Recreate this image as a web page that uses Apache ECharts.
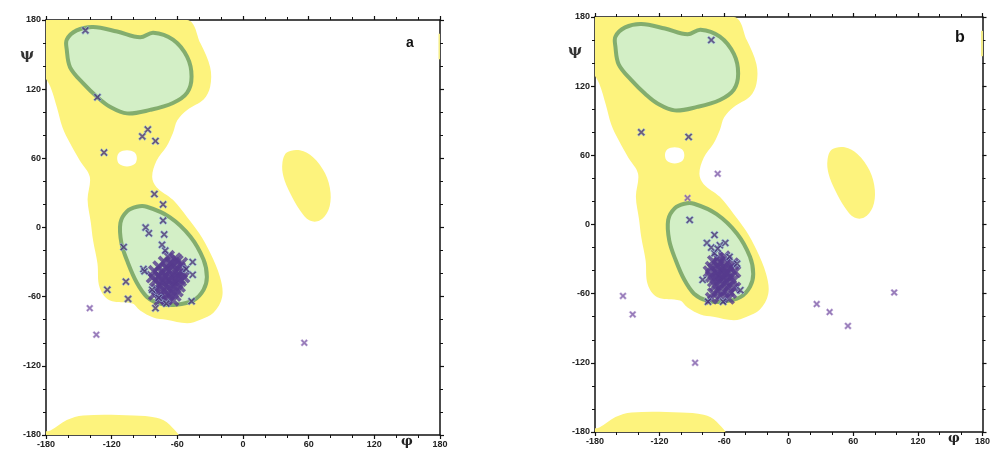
<!DOCTYPE html>
<html>
<head>
<meta charset="utf-8">
<script src="https://cdn.jsdelivr.net/npm/echarts@6/dist/echarts.min.js"></script>
<style>
  body { margin: 0; background: #fff; }
  #chart { width: 993px; height: 452px; }
</style>
</head>
<body>
<div id="chart"></div>
<script>
// tick labels for both axes (phi / psi in degrees)
let tickValues = [-180, -120, -60, 0, 60, 120, 180];

// allowed (yellow) region outlines, [phi, psi]
let allowedMain = [[-185,180],[-51,180],[-39,160],[-30,139],[-30,122],[-36,111],[-51,102],[-60,93],[-64,82],
  [-70,70],[-79,58],[-83,44],[-79,35],[-64,24],[-51,9],[-40,-5],[-30,-22],[-21,-43],[-19,-60],[-27,-74],
  [-39,-80],[-51,-83],[-70,-80],[-82,-78],[-94,-72],[-101,-66],[-122,-63],[-131,-52],[-133,-31],[-137,-11],
  [-139,4],[-142,24],[-140,44],[-149,58],[-158,73],[-165,87],[-170,104],[-176,122],[-185,139]];
let allowedBottom = [[-185,-185],[-185,-178],[-176,-176],[-161,-167],[-146,-163],[-100,-163],[-79,-165],[-67,-171],[-58,-185]];
let allowedLeftHanded = [[52,67],[64,61],[75,47],[80,30],[78,15],[70,6],[61,6],[52,15],[43,30],[37,44],[36,56],[40,65]];
let allowedEdge = [[178.6,168],[182,168],[182,146],[178.6,146]];
let holeRegion = [[-115,60],[-113,65],[-106,67],[-99,65],[-97,60],[-99,55],[-106,53],[-113,55]];

// core (green) region outlines
let coreBeta = [[-161,163],[-152,171],[-137,174],[-115,170],[-94,165],[-82,169],[-64,163],[-51,148],[-47,131],
  [-51,117],[-64,108],[-85,102],[-106,99],[-122,105],[-133,113],[-146,125],[-158,139],[-161,154]];
let coreAlpha = [[-88,18],[-67,9],[-48,-8],[-36,-28],[-33,-43],[-36,-54],[-45,-63],[-61,-67],[-76,-66],
  [-88,-60],[-97,-48],[-105,-31],[-111,-14],[-112,4],[-106,14],[-97,18]];

// residues, panel a (single ones, then the dense helix cluster)
let residuesA = [[-144,171],[-133,113],[-87,85],[-92,79],[-80,75],[-127,65],[-81,29],[-73,20],[-73,6],[-89,0],
  [-86,-5],[-72,-6],[-109,-17],[-71,-20],[-74,-15],[-46,-30],[-91,-36],[-46,-41],[-107,-47],[-124,-54],
  [-105,-62],[-80,-70],[-47,-64],[-83,-54],[-77,-61],[-70,-66],[-90,-38],[-52,-36]];
let clusterA = [[-68,-25],[-62,-27],[-72,-30],[-66,-31],[-60,-29],[-56,-31],[-77,-34],[-70,-35],[-64,-33],[-58,-35],
  [-81,-38],[-74,-39],[-68,-37],[-62,-38],[-56,-39],[-83,-43],[-77,-42],[-71,-42],[-65,-43],[-59,-41],
  [-54,-43],[-80,-46],[-74,-47],[-68,-46],[-62,-47],[-57,-46],[-76,-50],[-70,-51],[-64,-50],[-58,-51],
  [-78,-54],[-72,-55],[-66,-54],[-60,-55],[-81,-58],[-75,-59],[-68,-58],[-62,-59],[-76,-63],[-70,-62],
  [-64,-63],[-66,-45],[-60,-44],[-73,-44]];
let outliersA = [[-140,-70],[-134,-93],[56,-100]];

// residues, panel b
let residuesB = [[-72,160],[-137,80],[-93,76],[-92,4],[-69,-9],[-59,-16],[-64,-18],[-55,-28],[-69,-25],
  [-48,-34],[-80,-48],[-45,-57],[-75,-67],[-61,-67],[-76,-16],[-72,-20],[-66,-21]];
let clusterB = [[-66,-29],[-60,-28],[-70,-32],[-64,-33],[-58,-32],[-52,-34],[-72,-37],[-66,-36],[-60,-37],[-54,-38],
  [-74,-41],[-68,-41],[-62,-40],[-56,-42],[-50,-41],[-72,-45],[-66,-44],[-60,-45],[-54,-46],[-70,-49],
  [-64,-48],[-58,-50],[-52,-49],[-68,-53],[-62,-52],[-56,-54],[-66,-57],[-60,-58],[-54,-59],[-70,-60],
  [-63,-62],[-56,-64],[-72,-64],[-50,-55],[-62,-44],[-58,-42]];
let outliersB = [[-66,44],[-94,23],[-154,-62],[-145,-78],[-87,-120],[26,-69],[38,-76],[55,-88],[98,-59]];

let crossSymbol = 'path://M0,2L2,0L5,3L8,0L10,2L7,5L10,8L8,10L5,7L2,10L0,8L3,5Z';
let labelFont = { color: '#222', fontSize: 9, fontWeight: 'bold', fontFamily: 'Liberation Sans' };

window.onload = function() {
    drawChart();
}

function regionSeries(points, axisIdx, fill, stroke, width, smooth) {
    return {
        type: 'custom',
        xAxisIndex: axisIdx,
        yAxisIndex: axisIdx,
        clip: true,
        silent: true,
        data: points,
        renderItem: function(params, api) {
            if (params.dataIndex !== 0) return;
            let pts = points.map(function(p) { return api.coord(p); });
            return {
                type: 'polygon',
                shape: { points: pts, smooth: smooth === undefined ? 0.35 : smooth },
                style: { fill: fill, stroke: stroke || null, lineWidth: width || 0 }
            };
        }
    };
}

function panelSeries(axisIdx, residues, cluster, outliers) {
    return [
        regionSeries(allowedMain, axisIdx, '#fdf37d'),
        regionSeries(allowedBottom, axisIdx, '#fdf37d'),
        regionSeries(allowedLeftHanded, axisIdx, '#fdf37d'),
        regionSeries(allowedEdge, axisIdx, '#f3ec86', null, 0, 0),
        regionSeries(holeRegion, axisIdx, '#ffffff'),
        regionSeries(coreBeta, axisIdx, '#d3efc6', '#83ad6e', 4),
        regionSeries(coreAlpha, axisIdx, '#d3efc6', '#83ad6e', 4),
        {
            type: 'scatter', xAxisIndex: axisIdx, yAxisIndex: axisIdx,
            symbol: crossSymbol, symbolSize: 13, data: cluster,
            itemStyle: { color: '#563b8d' }
        },
        {
            type: 'scatter', xAxisIndex: axisIdx, yAxisIndex: axisIdx,
            symbol: crossSymbol, symbolSize: 8, data: residues,
            itemStyle: { color: '#4a3678', borderColor: '#a9d6ee', borderWidth: 0.7 }
        },
        {
            type: 'scatter', xAxisIndex: axisIdx, yAxisIndex: axisIdx,
            symbol: crossSymbol, symbolSize: 7, data: outliers,
            itemStyle: { color: '#7d5aa8', borderColor: '#c9b6e0', borderWidth: 0.6 }
        }
    ];
}

function makeAxis(gridIndex, position, showLabels) {
    return {
        type: 'value', gridIndex: gridIndex, position: position,
        min: -180, max: 180, interval: 60,
        axisLine: { onZero: false, lineStyle: { color: '#111', width: 1.5 } },
        axisTick: { show: true, inside: false, length: 4, lineStyle: { color: '#111', width: 1.2 } },
        minorTick: { show: true, splitNumber: 3, length: 3, lineStyle: { color: '#111', width: 1 } },
        splitLine: { show: false },
        axisLabel: Object.assign({ show: showLabels, margin: 5,
            formatter: function(v) { return tickValues.indexOf(v) >= 0 ? String(v) : ''; } }, labelFont)
    };
}

function drawChart() {
    let myChart = echarts.init(document.getElementById('chart'));

    let option = {
        backgroundColor: '#ffffff',
        animation: false,
        grid: [
            { left: 46, top: 20, width: 394, height: 415 },
            { left: 595, top: 17, width: 388, height: 415 }
        ],
        xAxis: [makeAxis(0, 'bottom', true), makeAxis(0, 'top', false),
                makeAxis(1, 'bottom', true), makeAxis(1, 'top', false)],
        yAxis: [makeAxis(0, 'left', true), makeAxis(0, 'right', false),
                makeAxis(1, 'left', true), makeAxis(1, 'right', false)],
        graphic: [
            { type: 'text', left: 406, top: 36, style: { text: 'a', fontSize: 14, fontWeight: 'bold', fill: '#111', fontFamily: 'Liberation Sans' } },
            { type: 'text', left: 955, top: 30, style: { text: 'b', fontSize: 16, fontWeight: 'bold', fill: '#111', fontFamily: 'Liberation Sans' } },
            { type: 'text', left: 20, top: 48, style: { text: 'ψ', fontSize: 15, fontWeight: 'bold', fill: '#333', fontFamily: 'DejaVu Serif' } },
            { type: 'text', left: 568, top: 44, style: { text: 'ψ', fontSize: 15, fontWeight: 'bold', fill: '#333', fontFamily: 'DejaVu Serif' } },
            { type: 'text', left: 401, top: 435, style: { text: 'φ', fontSize: 13, fontWeight: 'bold', fill: '#222', fontFamily: 'DejaVu Serif' } },
            { type: 'text', left: 948, top: 432, style: { text: 'φ', fontSize: 13, fontWeight: 'bold', fill: '#222', fontFamily: 'DejaVu Serif' } }
        ],
        series: [].concat(panelSeries(0, residuesA, clusterA, outliersA), panelSeries(2, residuesB, clusterB, outliersB))
    };
    myChart.setOption(option);
}
</script>
</body>
</html>
